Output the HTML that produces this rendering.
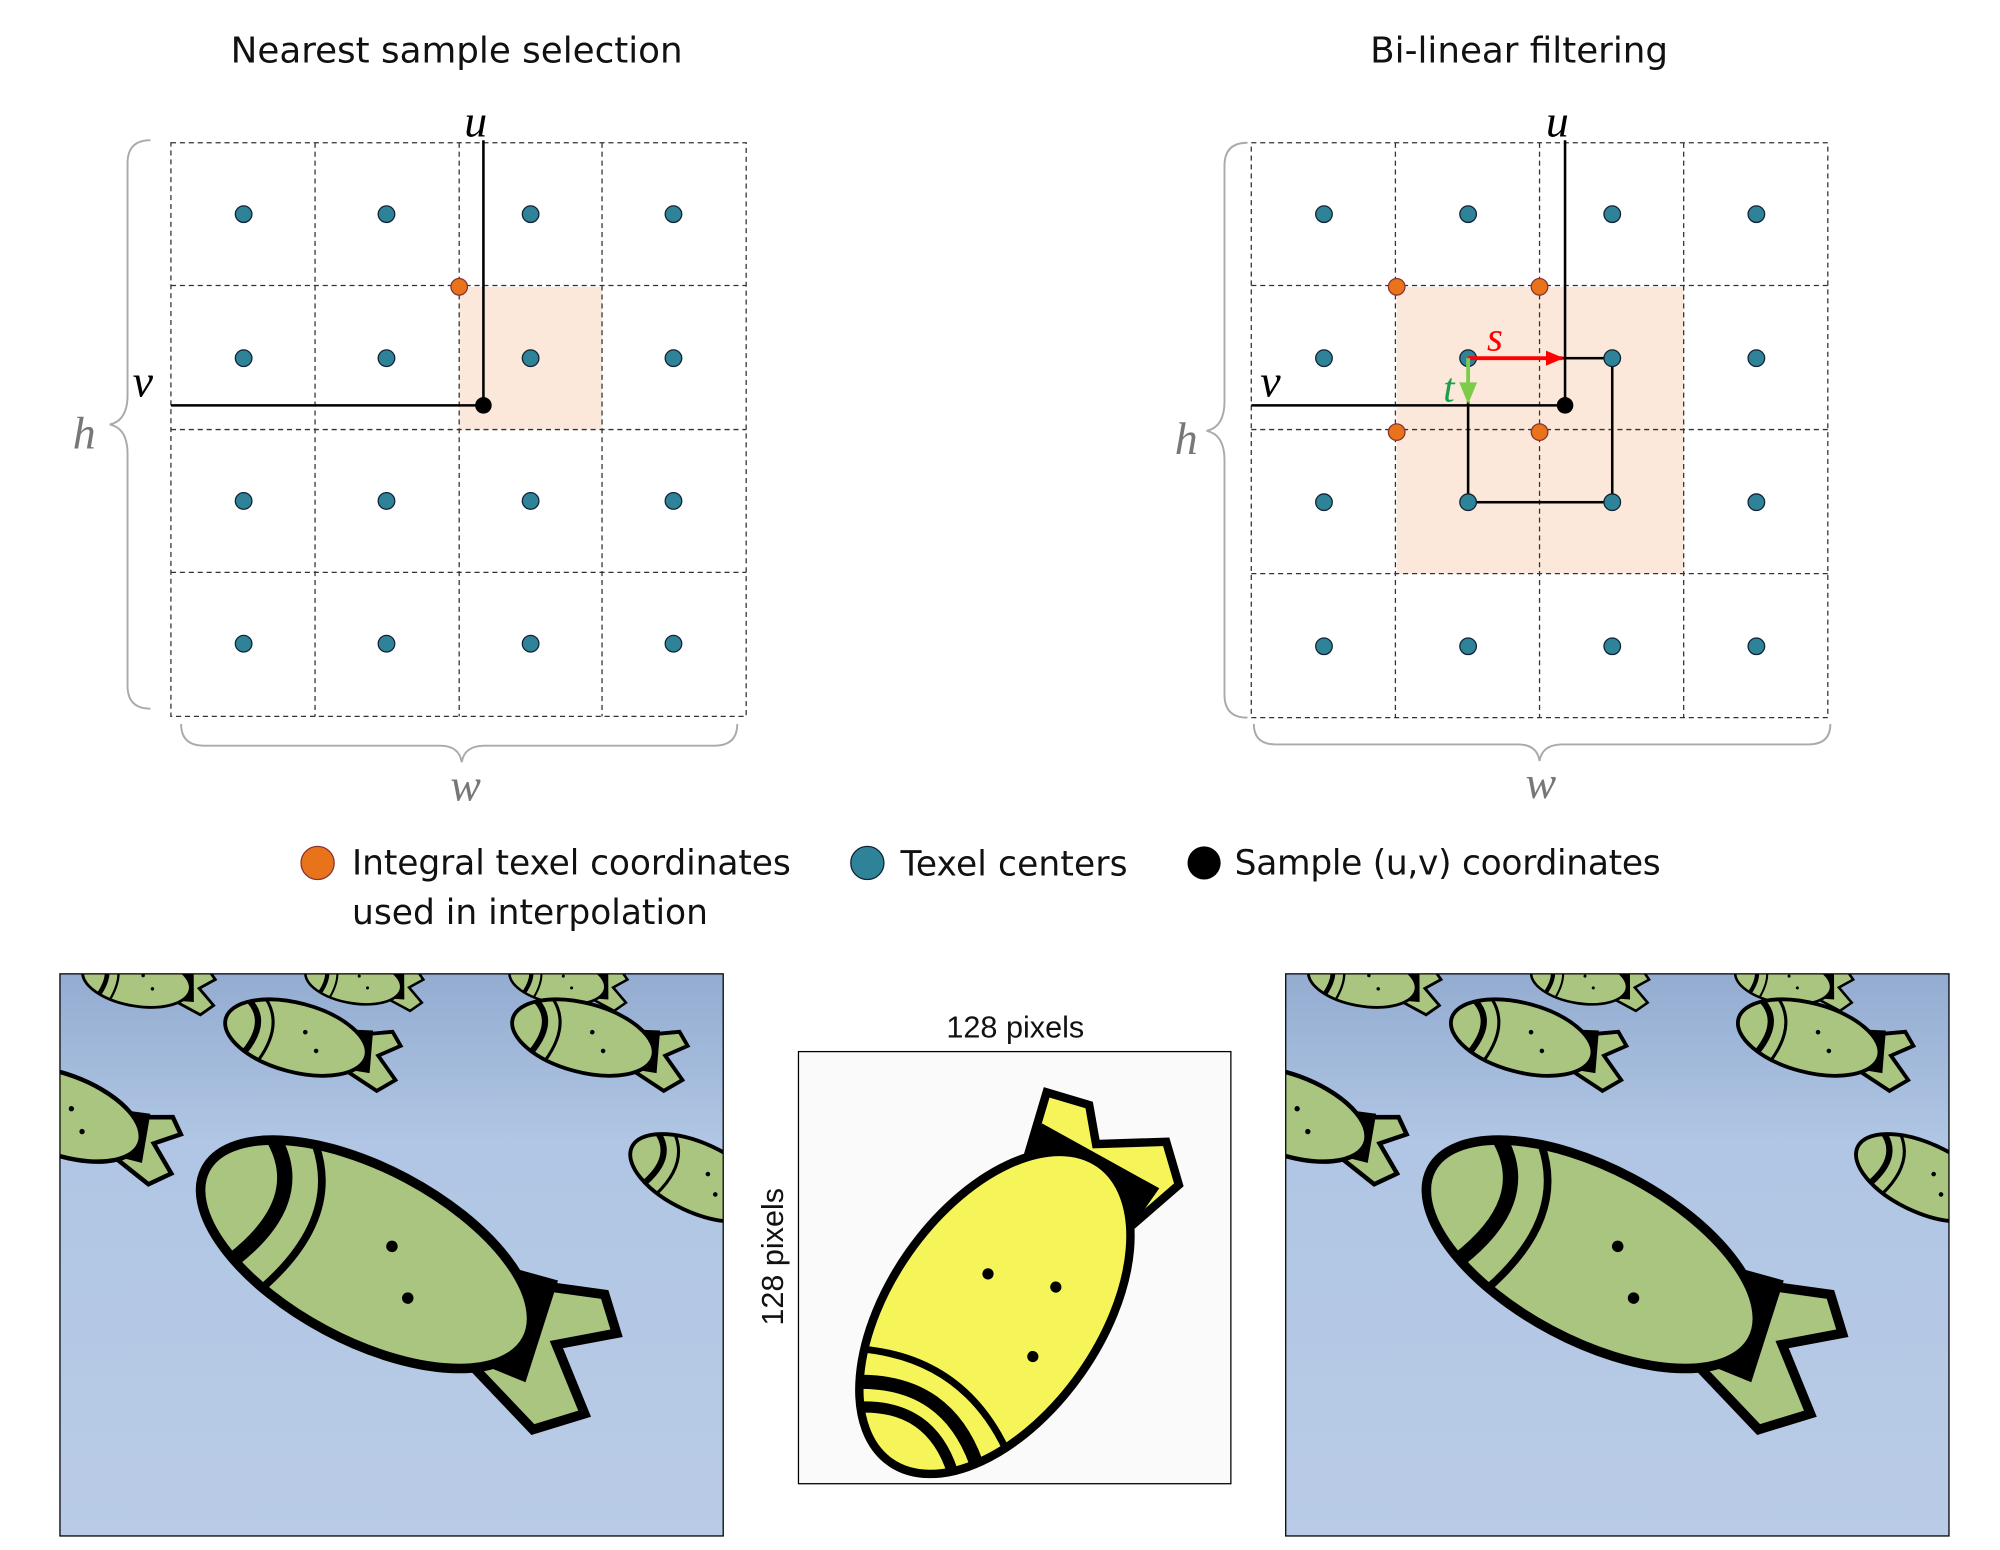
<!DOCTYPE html>
<html><head><meta charset="utf-8"><style>
html,body{margin:0;padding:0;background:#fff;}
svg{display:block;}
</style></head><body>
<svg width="2000" height="1550" viewBox="0 0 1568 1216" preserveAspectRatio="none" xmlns="http://www.w3.org/2000/svg" font-family="Liberation Sans, sans-serif">
<defs>
<linearGradient id="sky" x1="0" y1="0" x2="0" y2="1">
<stop offset="0" stop-color="#93acd0"/><stop offset="0.3" stop-color="#b0c6e4"/><stop offset="1" stop-color="#b9cbe6"/>
</linearGradient>
<g id="bomb">
<path d="M60,-18 L120,-40 L135,-25 L110,-5 L140,20 L120,40 L60,20 Z" fill="#a9c57f" stroke="#000" stroke-width="5"/>
<path d="M50,-25 L95,-35 L105,20 L55,25 Z" fill="#000"/>
<ellipse cx="0" cy="0" rx="95" ry="45" fill="#a9c57f" stroke="#000" stroke-width="5"/>
<path d="M-70,-30 Q-40,-10 -60,35" stroke="#000" stroke-width="8" fill="none"/>
<path d="M-50,-38 Q-20,-10 -40,42" stroke="#000" stroke-width="4" fill="none"/>
<circle cx="10" cy="-10" r="3"/><circle cx="30" cy="10" r="3"/>
</g>
<marker id="ar" markerWidth="14" markerHeight="12" refX="13" refY="6" orient="auto" markerUnits="userSpaceOnUse"><path d="M0,0 L14,6 L0,12Z" fill="red"/></marker>
</defs>

<text x="358" y="49" font-size="28" text-anchor="middle" font-family="DejaVu Sans, sans-serif" fill="#111">Nearest sample selection</text>
<text x="1191" y="49" font-size="28" text-anchor="middle" font-family="DejaVu Sans, sans-serif" fill="#111">Bi-linear filtering</text>

<!-- left grid -->
<rect x="360" y="225" width="112" height="112" fill="#fce8da"/>
<g stroke="#333" stroke-width="1" stroke-dasharray="4,3" fill="none">
<rect x="134" y="112" width="451" height="450"/>
<line x1="247" y1="112" x2="247" y2="562"/><line x1="360" y1="112" x2="360" y2="562"/><line x1="472" y1="112" x2="472" y2="562"/>
<line x1="134" y1="224" x2="585" y2="224"/><line x1="134" y1="337" x2="585" y2="337"/><line x1="134" y1="449" x2="585" y2="449"/>
</g>
<g fill="#2e8399" stroke="#123" stroke-width="1">
<circle cx="191" cy="168" r="6.5"/><circle cx="303" cy="168" r="6.5"/><circle cx="416" cy="168" r="6.5"/><circle cx="528" cy="168" r="6.5"/>
<circle cx="191" cy="281" r="6.5"/><circle cx="303" cy="281" r="6.5"/><circle cx="416" cy="281" r="6.5"/><circle cx="528" cy="281" r="6.5"/>
<circle cx="191" cy="393" r="6.5"/><circle cx="303" cy="393" r="6.5"/><circle cx="416" cy="393" r="6.5"/><circle cx="528" cy="393" r="6.5"/>
<circle cx="191" cy="505" r="6.5"/><circle cx="303" cy="505" r="6.5"/><circle cx="416" cy="505" r="6.5"/><circle cx="528" cy="505" r="6.5"/>
</g>
<line x1="379" y1="110" x2="379" y2="318" stroke="#000" stroke-width="2"/>
<line x1="134" y1="318" x2="379" y2="318" stroke="#000" stroke-width="2"/>
<circle cx="379" cy="318" r="6.5" fill="#000"/>
<circle cx="360" cy="225" r="6.5" fill="#e8731a" stroke="#833" stroke-width="1"/>
<text x="373" y="107" font-size="36" font-style="italic" font-family="Liberation Serif, serif" text-anchor="middle">u</text>
<text x="112" y="311" font-size="36" font-style="italic" font-family="Liberation Serif, serif" text-anchor="middle">v</text>
<path d="M118,110 Q100,110 100,128 L100,310 Q100,330 86,333 Q100,336 100,356 L100,538 Q100,556 118,556" stroke="#aaa" stroke-width="1.5" fill="none"/>
<text x="66" y="352" font-size="36" font-style="italic" font-family="Liberation Serif, serif" fill="#777" text-anchor="middle">h</text>
<path d="M142,568 Q142,585 160,585 L345,585 Q360,585 362,598 Q364,585 380,585 L560,585 Q578,585 578,568" stroke="#aaa" stroke-width="1.5" fill="none"/>
<text x="365" y="628" font-size="36" font-style="italic" font-family="Liberation Serif, serif" fill="#777" text-anchor="middle">w</text>

<!-- right grid -->
<rect x="1095" y="225" width="225" height="225" fill="#fce8da"/>
<g stroke="#333" stroke-width="1" stroke-dasharray="4,3" fill="none">
<rect x="981" y="112" width="452" height="451"/>
<line x1="1094" y1="112" x2="1094" y2="563"/><line x1="1207" y1="112" x2="1207" y2="563"/><line x1="1320" y1="112" x2="1320" y2="563"/>
<line x1="981" y1="224" x2="1433" y2="224"/><line x1="981" y1="337" x2="1433" y2="337"/><line x1="981" y1="450" x2="1433" y2="450"/>
</g>
<rect x="1151" y="281" width="113" height="113" fill="none" stroke="#000" stroke-width="2"/>
<g fill="#2e8399" stroke="#123" stroke-width="1">
<circle cx="1038" cy="168" r="6.5"/><circle cx="1151" cy="168" r="6.5"/><circle cx="1264" cy="168" r="6.5"/><circle cx="1377" cy="168" r="6.5"/>
<circle cx="1038" cy="281" r="6.5"/><circle cx="1151" cy="281" r="6.5"/><circle cx="1264" cy="281" r="6.5"/><circle cx="1377" cy="281" r="6.5"/>
<circle cx="1038" cy="394" r="6.5"/><circle cx="1151" cy="394" r="6.5"/><circle cx="1264" cy="394" r="6.5"/><circle cx="1377" cy="394" r="6.5"/>
<circle cx="1038" cy="507" r="6.5"/><circle cx="1151" cy="507" r="6.5"/><circle cx="1264" cy="507" r="6.5"/><circle cx="1377" cy="507" r="6.5"/>
</g>
<line x1="1227" y1="110" x2="1227" y2="318" stroke="#000" stroke-width="2"/>
<line x1="981" y1="318" x2="1227" y2="318" stroke="#000" stroke-width="2"/>
<circle cx="1227" cy="318" r="6.5" fill="#000"/>
<g fill="#e8731a" stroke="#833" stroke-width="1">
<circle cx="1095" cy="225" r="6.5"/><circle cx="1207" cy="225" r="6.5"/><circle cx="1095" cy="339" r="6.5"/><circle cx="1207" cy="339" r="6.5"/>
</g>
<line x1="1151" y1="281" x2="1225" y2="281" stroke="red" stroke-width="3" marker-end="url(#ar)"/>
<line x1="1151" y1="281" x2="1151" y2="303" stroke="#7ccc4a" stroke-width="3"/>
<path d="M1144,300 L1158,300 L1151,317Z" fill="#7ccc4a"/>
<text x="1172" y="275" font-size="32" font-style="italic" font-family="Liberation Serif, serif" fill="red" text-anchor="middle">s</text>
<text x="1136" y="315" font-size="32" font-style="italic" font-family="Liberation Serif, serif" fill="#1aa04a" text-anchor="middle">t</text>
<text x="1221" y="107" font-size="36" font-style="italic" font-family="Liberation Serif, serif" text-anchor="middle">u</text>
<text x="996" y="311" font-size="36" font-style="italic" font-family="Liberation Serif, serif" text-anchor="middle">v</text>
<path d="M978,112 Q960,112 960,130 L960,315 Q960,335 946,338 Q960,341 960,361 L960,545 Q960,563 978,563" stroke="#aaa" stroke-width="1.5" fill="none"/>
<text x="930" y="356" font-size="36" font-style="italic" font-family="Liberation Serif, serif" fill="#777" text-anchor="middle">h</text>
<path d="M983,568 Q983,584 1000,584 L1190,584 Q1205,584 1207,597 Q1209,584 1225,584 L1418,584 Q1435,584 1435,568" stroke="#aaa" stroke-width="1.5" fill="none"/>
<text x="1208" y="626" font-size="36" font-style="italic" font-family="Liberation Serif, serif" fill="#777" text-anchor="middle">w</text>

<!-- legend -->
<circle cx="249" cy="677" r="13" fill="#e8731a" stroke="#833"/>
<circle cx="680" cy="677" r="13" fill="#2e8399" stroke="#123"/>
<circle cx="944" cy="677" r="13" fill="#000"/>
<g font-size="27" font-family="DejaVu Sans, sans-serif" fill="#111">
<text x="276" y="686" textLength="344">Integral texel coordinates</text>
<text x="276" y="725" textLength="279">used in interpolation</text>
<text x="706" y="687" textLength="178">Texel centers</text>
<text x="968" y="686" textLength="334">Sample (u,v) coordinates</text>
</g>

<!-- bottom left -->
<svg x="47" y="764" width="520" height="441" viewBox="0 0 520 441">
<rect width="520" height="441" fill="url(#sky)"/>
<use href="#bomb" transform="translate(60,5) scale(0.45) rotate(10)"/>
<use href="#bomb" transform="translate(230,5) scale(0.4) rotate(10)"/>
<use href="#bomb" transform="translate(390,5) scale(0.4) rotate(10)"/>
<use href="#bomb" transform="translate(185,50) scale(0.6) rotate(15)"/>
<use href="#bomb" transform="translate(410,50) scale(0.6) rotate(15)"/>
<use href="#bomb" transform="translate(0,110) scale(0.7) rotate(20)"/>
<use href="#bomb" transform="translate(500,160) scale(0.6) rotate(25)"/>
<use href="#bomb" transform="translate(240,220) scale(1.5) rotate(28)"/>
</svg>
<rect x="47" y="764" width="520" height="441" fill="none" stroke="#000" stroke-width="1"/>

<!-- bottom right -->
<svg x="1008" y="764" width="520" height="441" viewBox="0 0 520 441">
<rect width="520" height="441" fill="url(#sky)"/>
<use href="#bomb" transform="translate(60,5) scale(0.45) rotate(10)"/>
<use href="#bomb" transform="translate(230,5) scale(0.4) rotate(10)"/>
<use href="#bomb" transform="translate(390,5) scale(0.4) rotate(10)"/>
<use href="#bomb" transform="translate(185,50) scale(0.6) rotate(15)"/>
<use href="#bomb" transform="translate(410,50) scale(0.6) rotate(15)"/>
<use href="#bomb" transform="translate(0,110) scale(0.7) rotate(20)"/>
<use href="#bomb" transform="translate(500,160) scale(0.6) rotate(25)"/>
<use href="#bomb" transform="translate(240,220) scale(1.5) rotate(28)"/>
</svg>
<rect x="1008" y="764" width="520" height="441" fill="none" stroke="#000" stroke-width="1"/>

<!-- center -->
<rect x="626" y="825" width="339" height="339" fill="#fafafa" stroke="#000" stroke-width="1"/>
<g transform="translate(780,1030) rotate(-55) scale(1.1)">
<path d="M90,-40 L150,-60 L160,-30 L140,-10 L170,30 L150,55 L90,40 Z" fill="#f5f55a" stroke="#000" stroke-width="6"/>
<path d="M85,-45 L130,-50 L140,45 L90,45 Z" fill="#000"/>
<ellipse cx="0" cy="0" rx="130" ry="75" fill="#f5f55a" stroke="#000" stroke-width="6"/>
<path d="M-95,-50 Q-60,0 -95,50" stroke="#000" stroke-width="10" fill="none"/>
<path d="M-75,-62 Q-40,0 -75,62" stroke="#000" stroke-width="5" fill="none"/>
<path d="M-110,-40 Q-80,0 -110,40" stroke="#000" stroke-width="8" fill="none"/>
<circle cx="20" cy="-20" r="4"/><circle cx="40" cy="25" r="4"/><circle cx="-10" cy="40" r="4"/>
</g>
<text x="796" y="814" font-size="24" text-anchor="middle" fill="#111">128 pixels</text>
<text transform="translate(614,986) rotate(-90)" font-size="24" text-anchor="middle" fill="#111">128 pixels</text>
</svg>
</body></html>
